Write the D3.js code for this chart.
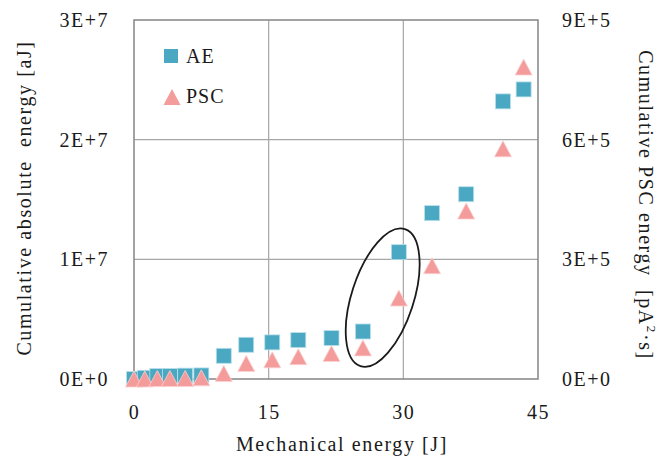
<!DOCTYPE html>
<html>
<head>
<meta charset="utf-8">
<script src="https://cdn.jsdelivr.net/npm/d3@7"></script>
<style>
  body { margin: 0; background: #fff; }
  svg text { font-family: "Liberation Serif", "DejaVu Serif", serif; fill: #1a1a1a; white-space: pre; }
</style>
</head>
<body>
<svg id="chart" width="663" height="459"></svg>
<script>
// mechanical energy [J]
var mechEnergy = [0, 1.2, 2.6, 4.0, 5.7, 7.5, 10.0, 12.5, 15.4, 18.3, 22.0, 25.5, 29.5, 33.2, 37.0, 41.1, 43.4];
// cumulative AE absolute energy [aJ]
var aeEnergy = [0, 0.1e6, 0.25e6, 0.25e6, 0.28e6, 0.3e6, 1.94e6, 2.86e6, 3.06e6, 3.25e6, 3.42e6, 3.97e6, 10.6e6, 13.86e6, 15.44e6, 23.2e6, 24.2e6];
// cumulative PSC energy [pA^2 s]
var pscEnergy = [0, 0, 1e3, 1e3, 1.5e3, 3e3, 1.4e4, 3.9e4, 4.8e4, 5.6e4, 6.4e4, 7.8e4, 2.03e5, 2.84e5, 4.21e5, 5.77e5, 7.82e5];

var xTicks = [0, 15, 30, 45];
var yLeftTicks = [0, 1e7, 2e7, 3e7];
var yRightTicks = [0, 3e5, 6e5, 9e5];
var seriesNames = ['AE', 'PSC'];

var margin = {left: 134, right: 125, top: 20, bottom: 80};
var width = 663 - margin.left - margin.right;
var height = 459 - margin.top - margin.bottom;

var svg = d3.select('#chart');
var g = svg.append('g').attr('transform', 'translate(' + margin.left + ',' + margin.top + ')');

var x = d3.scaleLinear().domain([0, 45]).range([0, width]);
var yL = d3.scaleLinear().domain([0, 3e7]).range([height, 0]);
var yR = d3.scaleLinear().domain([0, 9e5]).range([height, 0]);

function expFmt(v) {
	if (v === 0) return '0E+0';
	var e = Math.floor(Math.log10(v) + 1e-9);
	return Math.round(v / Math.pow(10, e)) + 'E+' + e;
}

// grid
g.append('g').selectAll('line').data(xTicks.slice(1, -1)).enter().append('line')
	.attr('x1', function(d) { return x(d); }).attr('x2', function(d) { return x(d); })
	.attr('y1', 0).attr('y2', height)
	.attr('stroke', '#a6a6a6').attr('stroke-width', 1.2);
g.append('g').selectAll('line').data(yLeftTicks.slice(1, -1)).enter().append('line')
	.attr('y1', function(d) { return yL(d); }).attr('y2', function(d) { return yL(d); })
	.attr('x1', 0).attr('x2', width)
	.attr('stroke', '#a6a6a6').attr('stroke-width', 1.2);

g.append('rect').attr('x', 0).attr('y', 0).attr('width', width).attr('height', height)
	.attr('fill', 'none').attr('stroke', '#8c8c8c').attr('stroke-width', 1.6);

// axes
var xAxis = g.append('g').attr('transform', 'translate(0,' + height + ')')
	.call(d3.axisBottom(x).tickValues(xTicks).tickSize(0).tickPadding(26));
var yAxisL = g.append('g')
	.call(d3.axisLeft(yL).tickValues(yLeftTicks).tickSize(0).tickPadding(25).tickFormat(expFmt));
var yAxisR = g.append('g').attr('transform', 'translate(' + width + ',0)')
	.call(d3.axisRight(yR).tickValues(yRightTicks).tickSize(0).tickPadding(24).tickFormat(expFmt));
[xAxis, yAxisL, yAxisR].forEach(function(a) {
	a.select('.domain').remove();
	a.selectAll('text').attr('font-size', 20).attr('font-family', null).attr('fill', '#1a1a1a')
		.attr('letter-spacing', 1.5);
});

// markers
var sq = 15, triW = 17, triH = 16;
var triPath = 'M0,' + (-triH / 2) + 'L' + (triW / 2) + ',' + (triH / 2) + 'L' + (-triW / 2) + ',' + (triH / 2) + 'Z';

g.append('g').selectAll('rect').data(mechEnergy).enter().append('rect')
	.attr('x', function(d) { return x(d) - sq / 2; })
	.attr('y', function(d, i) { return yL(aeEnergy[i]) - sq / 2; })
	.attr('width', sq).attr('height', sq)
	.attr('fill', '#4ba8c2').attr('stroke', '#b9e0ea').attr('stroke-width', 0.8);

g.append('g').selectAll('path').data(mechEnergy).enter().append('path')
	.attr('d', triPath)
	.attr('transform', function(d, i) { return 'translate(' + x(d) + ',' + yR(pscEnergy[i]) + ')'; })
	.attr('fill', '#f49b9b').attr('stroke', '#fbd0d0').attr('stroke-width', 0.8);

// ellipse around the jump
g.append('ellipse')
	.attr('transform', 'translate(' + x(27.7) + ',' + yL(6.8e6) + ') rotate(18)')
	.attr('rx', 31).attr('ry', 72)
	.attr('fill', 'none').attr('stroke', '#1a1a1a').attr('stroke-width', 1.8);

// legend
var leg = g.append('g');
leg.append('rect').attr('x', 171 - margin.left - 7).attr('y', 56 - margin.top - 7)
	.attr('width', 14).attr('height', 14).attr('fill', '#4ba8c2');
leg.append('path').attr('d', triPath)
	.attr('transform', 'translate(' + (172 - margin.left) + ',' + (97 - margin.top) + ')')
	.attr('fill', '#f49b9b');
leg.selectAll('text').data(seriesNames).enter().append('text')
	.attr('x', 186 - margin.left)
	.attr('y', function(d, i) { return 63 - margin.top + i * 40; })
	.attr('font-size', 20).attr('letter-spacing', 1)
	.text(function(d) { return d; });

// titles
svg.append('text').attr('x', 342).attr('y', 451)
	.attr('text-anchor', 'middle').attr('font-size', 20).attr('letter-spacing', 1.6)
	.text('Mechanical energy [J]');
svg.append('text').attr('transform', 'translate(31,198) rotate(-90)')
	.attr('text-anchor', 'middle').attr('font-size', 20).attr('letter-spacing', 1.6)
	.text('Cumulative absolute  energy [aJ]');
var rt = svg.append('text').attr('transform', 'translate(639,205) rotate(90)')
	.attr('text-anchor', 'middle').attr('font-size', 20).attr('letter-spacing', 1.6);
rt.append('tspan').text('Cumulative PSC energy  [pA');
rt.append('tspan').attr('font-size', 13).attr('dy', -8).text('2');
rt.append('tspan').attr('dy', 8).text('·s]');
</script>
</body>
</html>
